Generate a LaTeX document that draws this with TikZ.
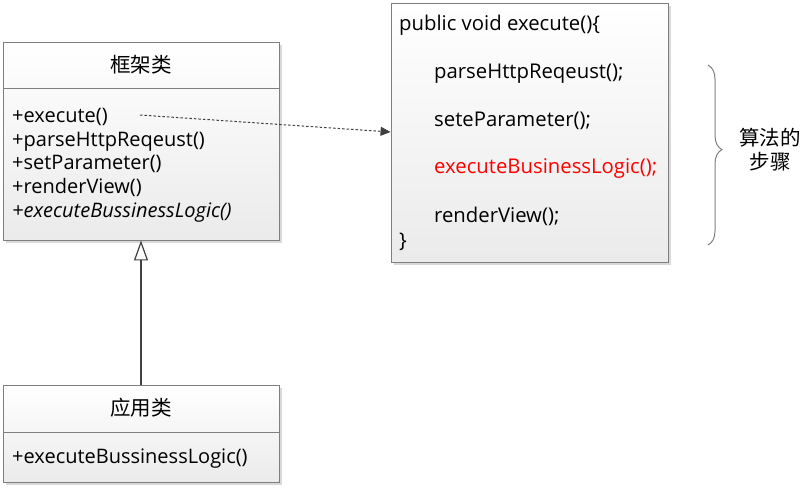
\documentclass[tikz,border=0pt]{standalone}
\usepackage{fontspec}
\setmainfont{Open Sans}
\newfontfamily\cjk{Noto Sans CJK SC}
\usetikzlibrary{arrows.meta,shadows,decorations.pathreplacing}
\definecolor{boxline}{HTML}{7F7F7F}
\definecolor{linecol}{HTML}{404040}
\tikzset{
  umlbox/.style={draw=boxline, line width=0.9pt, top color=white, bottom color=black!8,
    drop shadow={shadow xshift=2.5pt, shadow yshift=-2.5pt, fill=black!25, opacity=0.6},
    inner sep=0pt},
  member/.style={anchor=base west, inner sep=0pt, font=\fontsize{20}{22}\selectfont},
  code/.style={anchor=base west, inner sep=0pt, font=\fontsize{20.3}{22}\selectfont},
  title/.style={inner sep=0pt, font=\cjk\fontsize{20.5}{22}\selectfont},
}
\begin{document}
\begin{tikzpicture}[x=1pt,y=-1pt]
\useasboundingbox (0,0) rectangle (804,491);
% framework class
\node[umlbox, minimum width=276pt, minimum height=198pt] (fw) at (141,141) {};
\draw[boxline, line width=0.9pt] (3,88) -- (279,88);
\node[title] (fwt) at (141,65) {框架类};
\node[member] (m1) at (12,122) {+execute()};
\node[member] (m2) at (12,146) {+parseHttpReqeust()};
\node[member] (m3) at (12,169.5) {+setParameter()};
\node[member] (m4) at (12,193) {+renderView()};
\node[member] (m5) at (12,217) {\itshape +executeBussinessLogic()};
% application class
\node[umlbox, minimum width=276pt, minimum height=97pt] (app) at (141,433.5) {};
\draw[boxline, line width=0.9pt] (3,432) -- (279,432);
\node[title] (appt) at (141,408) {应用类};
\node[member] (a1) at (12,463) {+executeBussinessLogic()};
% code box
\node[umlbox, minimum width=277pt, minimum height=259pt] (code) at (529.5,132.5) {};
\node[code] (c0) at (399,30) {public void execute()\{};
\node[code] (c1) at (434,78) {parseHttpReqeust();};
\node[code] (c2) at (434,126) {seteParameter();};
\node[code, text=red] (c3) at (434,173) {executeBusinessLogic();};
\node[code] (c4) at (434,222) {renderView();};
\node[code] (c5) at (399,247) {\}};
% inheritance
\draw[linecol, line width=1.6pt, -{Triangle[open, length=20pt, width=14pt, line width=1.2pt]}] (app.north) -- (fw.south);
% dashed dependency
\coordinate (ds) at (140,115);
\draw[linecol, line width=1pt, dash pattern=on 2.5pt off 2pt, -{Stealth[length=10pt, width=9pt, inset=0pt]}] (ds) -- (code.west |- 0,132);
% brace
\draw[boxline, line width=1pt, decorate, decoration={brace, amplitude=14pt, aspect=0.47}] (708,65) -- (708,245);
\node[inner sep=0pt, align=center, font=\cjk\fontsize{20.5}{24}\selectfont] (steps) at (770,150) {算法的\\步骤};
\end{tikzpicture}
\end{document}
